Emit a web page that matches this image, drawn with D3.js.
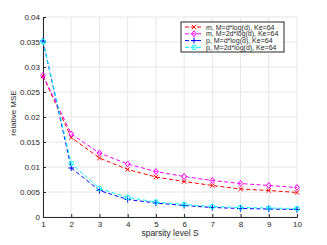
<!DOCTYPE html>
<html>
<head>
<meta charset="utf-8">
<script src="https://cdn.jsdelivr.net/npm/d3@7"></script>
<style>
  body { margin: 0; background: #fff; }
  text { font-family: "Liberation Sans", Arial, sans-serif; }
</style>
</head>
<body>
<svg id="chart" width="327" height="245"></svg>
<script>
// data
const sparsity = [1, 2, 3, 4, 5, 6, 7, 8, 9, 10];
const mDlog = [0.0282, 0.0159, 0.0118, 0.0095, 0.0080, 0.0071, 0.0063, 0.0056, 0.0053, 0.0049];
const m2Dlog = [0.0283, 0.0166, 0.0128, 0.0106, 0.0091, 0.0081, 0.0073, 0.0067, 0.0063, 0.0059];
const pDlog = [0.0352, 0.0098, 0.0053, 0.0035, 0.0028, 0.0023, 0.0019, 0.0017, 0.0016, 0.0015];
const p2Dlog = [0.0351, 0.0107, 0.0057, 0.0039, 0.0030, 0.0025, 0.0021, 0.0019, 0.0018, 0.0017];
const yTicks = [0, 0.005, 0.01, 0.015, 0.02, 0.025, 0.03, 0.035, 0.04];
const seriesNames = ['m, M=d*log(d), Ke=64', 'm, M=2d*log(d), Ke=64', 'p, M=d*log(d), Ke=64', 'p, M=2d*log(d), Ke=64'];

const series = [
  { name: seriesNames[0], values: mDlog, color: '#ff0000', marker: 'x' },
  { name: seriesNames[1], values: m2Dlog, color: '#ff00ff', marker: 'diamond' },
  { name: seriesNames[2], values: pDlog, color: '#0000ff', marker: 'plus' },
  { name: seriesNames[3], values: p2Dlog, color: '#00ffff', marker: 'circle' }
];

const svg = d3.select('#chart');
const margin = { left: 43, right: 30, top: 17, bottom: 28 };
const width = 327, height = 245;

const x = d3.scaleLinear().domain([1, 10]).range([margin.left, width - margin.right]);
const y = d3.scaleLinear().domain([0, 0.04]).range([height - margin.bottom, margin.top]);

// grid
const grid = svg.append('g');
grid.selectAll('line.gx').data(sparsity).enter().append('line')
  .attr('x1', d => x(d)).attr('x2', d => x(d))
  .attr('y1', y(0)).attr('y2', y(0.04))
  .attr('stroke', '#e6e6e6').attr('stroke-width', 1);
grid.selectAll('line.gy').data(yTicks).enter().append('line')
  .attr('x1', x(1)).attr('x2', x(10))
  .attr('y1', d => y(d)).attr('y2', d => y(d))
  .attr('stroke', '#e6e6e6').attr('stroke-width', 1);

// axes
const xAxis = d3.axisBottom(x).tickValues(sparsity).tickSize(-3).tickPadding(4).tickFormat(d3.format('d'));
const yAxis = d3.axisLeft(y).tickValues(yTicks).tickSize(-3).tickPadding(3).tickFormat(d => d === 0 ? '0' : String(+d.toFixed(3)));

const gx = svg.append('g').attr('transform', `translate(0,${y(0)})`).call(xAxis);
const gy = svg.append('g').attr('transform', `translate(${x(1)},0)`).call(yAxis);
[gx, gy].forEach(g => {
  g.select('.domain').attr('stroke', '#262626');
  g.selectAll('.tick line').attr('stroke', '#262626');
  g.selectAll('text').attr('font-size', 8).attr('fill', '#262626')
    .style('font-family', '"Liberation Sans", Arial, sans-serif');
});

svg.append('text').attr('x', (x(1) + x(10)) / 2).attr('y', 236)
  .attr('text-anchor', 'middle').attr('font-size', 8.5).attr('fill', '#262626')
  .text('sparsity level S');
svg.append('text').attr('transform', 'translate(16,113) rotate(-90)')
  .attr('text-anchor', 'middle').attr('font-size', 8).attr('fill', '#262626')
  .text('relative MSE');

function drawMarker(g, type, cx, cy, color) {
  const s = 2.2;
  if (type === 'x') {
    g.append('path').attr('d', `M${cx - s},${cy - s}L${cx + s},${cy + s}M${cx - s},${cy + s}L${cx + s},${cy - s}`)
      .attr('stroke', color).attr('stroke-width', 1).attr('fill', 'none');
  } else if (type === 'plus') {
    g.append('path').attr('d', `M${cx - 3},${cy}L${cx + 3},${cy}M${cx},${cy - 3}L${cx},${cy + 3}`)
      .attr('stroke', color).attr('stroke-width', 1).attr('fill', 'none');
  } else if (type === 'diamond') {
    g.append('path').attr('d', `M${cx},${cy - 3}L${cx + 2.3},${cy}L${cx},${cy + 3}L${cx - 2.3},${cy}Z`)
      .attr('stroke', color).attr('stroke-width', 1).attr('fill', 'none');
  } else {
    g.append('circle').attr('cx', cx).attr('cy', cy).attr('r', 2.3)
      .attr('stroke', color).attr('stroke-width', 1).attr('fill', 'none');
  }
}

const line = d3.line().x((d, i) => x(sparsity[i])).y(d => y(d));
series.forEach(s => {
  const g = svg.append('g');
  g.append('path').datum(s.values).attr('d', line)
    .attr('fill', 'none').attr('stroke', s.color).attr('stroke-width', 1)
    .attr('stroke-dasharray', '4,2.5');
  s.values.forEach((v, i) => drawMarker(g, s.marker, x(sparsity[i]), y(v), s.color));
});

// legend
const lg = svg.append('g').attr('transform', 'translate(181,22)');
lg.append('rect').attr('width', 103).attr('height', 30)
  .attr('fill', '#fff').attr('stroke', '#262626').attr('stroke-width', 1);
series.forEach((s, i) => {
  const ly = 5 + i * 6.8;
  lg.append('line').attr('x1', 4).attr('x2', 22).attr('y1', ly).attr('y2', ly)
    .attr('stroke', s.color).attr('stroke-width', 1).attr('stroke-dasharray', '4,2');
  drawMarker(lg, s.marker, 13, ly, s.color);
  lg.append('text').attr('x', 25).attr('y', ly + 2.5).attr('font-size', 7).attr('fill', '#262626')
    .text(s.name);
});
</script>
</body>
</html>
